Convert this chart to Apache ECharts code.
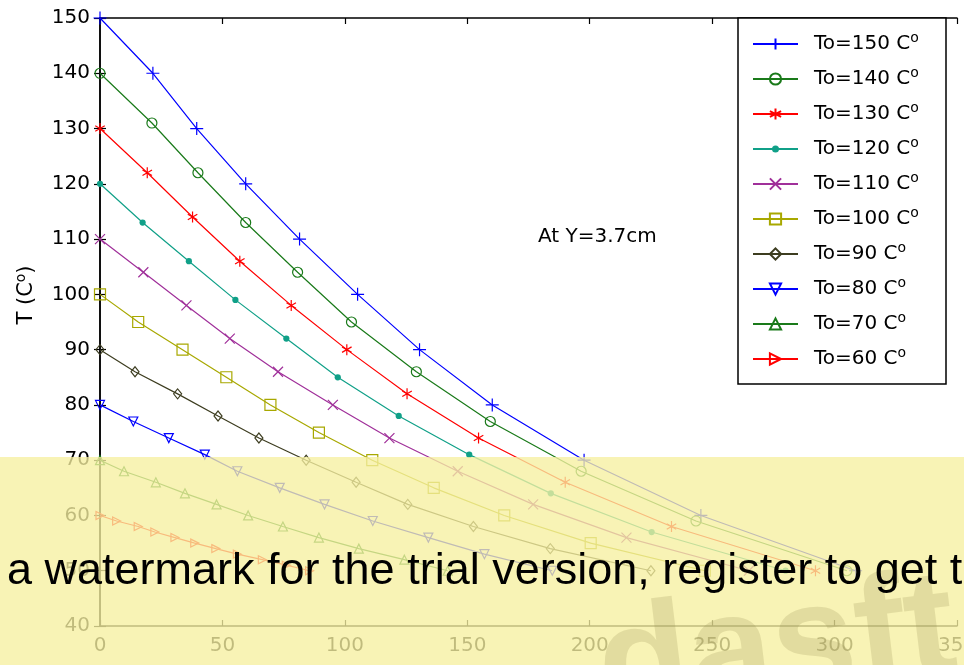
<!DOCTYPE html>
<html>
<head>
<meta charset="utf-8">
<script src="https://cdn.jsdelivr.net/npm/echarts@6/dist/echarts.min.js"></script>
<style>html,body{margin:0;padding:0;background:#fff}#c{width:964px;height:665px}</style>
</head>
<body>
<div id="c"></div>
<script>
// ---- data ----
const seriesNames = ['To=150', 'To=140', 'To=130', 'To=120', 'To=110', 'To=100', 'To=90', 'To=80', 'To=70', 'To=60'];
const x150 = [0, 21.6, 39.5, 59.5, 81.5, 105.2, 130.5, 160.2, 197.7, 245.4, 308.6];
const t150 = [150, 140, 130, 120, 110, 100, 90, 80, 70, 60, 50];
const x140 = [0, 21.2, 40, 59.5, 80.7, 102.7, 129.2, 159.4, 196.5, 243.4, 305];
const t140 = [140, 131, 122, 113, 104, 95, 86, 77, 68, 59, 50];
const x130 = [0, 19.3, 37.8, 57.1, 78.1, 100.8, 125.4, 154.6, 190, 233.4, 292.2];
const t130 = [130, 122, 114, 106, 98, 90, 82, 74, 66, 58, 50];
const x120 = [0, 17.4, 36.3, 55.3, 76.1, 97.1, 122, 150.8, 184.1, 225.3, 280];
const t120 = [120, 113, 106, 99, 92, 85, 78, 71, 64, 57, 50];
const x110 = [0, 17.7, 35.3, 53, 72.7, 95.1, 118.2, 146.1, 176.9, 215, 265];
const t110 = [110, 104, 98, 92, 86, 80, 74, 68, 62, 56, 50];
const x100 = [0, 15.6, 33.7, 51.6, 69.6, 89.4, 111.2, 136.3, 165.1, 200.4, 247];
const t100 = [100, 95, 90, 85, 80, 75, 70, 65, 60, 55, 50];
const x90 = [0, 14.3, 31.7, 48.2, 64.9, 84.2, 104.6, 125.7, 152.5, 183.9, 225];
const t90 = [90, 86, 82, 78, 74, 70, 66, 62, 58, 54, 50];
const x80 = [0, 13.6, 28.1, 42.8, 56.1, 73.4, 91.7, 111.4, 134.1, 157, 184.7];
const t80 = [80, 77, 74, 71, 68, 65, 62, 59, 56, 53, 50];
const x70 = [0, 9.8, 22.8, 34.7, 47.6, 60.5, 74.7, 89.4, 105.7, 124.3, 142];
const t70 = [70, 68, 66, 64, 62, 60, 58, 56, 54, 52, 50];
const x60 = [0, 6.8, 15.6, 22.4, 30.6, 38.7, 47.3, 56.1, 66.3, 76.1, 85.6];
const t60 = [60, 59, 58, 57, 56, 55, 54, 53, 52, 51, 50];
const xTicks = [0, 50, 100, 150, 200, 250, 300, 350];
const yTicks = [40, 50, 60, 70, 80, 90, 100, 110, 120, 130, 140, 150];

const xs = [x150, x140, x130, x120, x110, x100, x90, x80, x70, x60];
const ts = [t150, t140, t130, t120, t110, t100, t90, t80, t70, t60];

// ---- styles ----
const colors = ['#0000ff', '#1a7a1a', '#ff0000', '#10a088', '#a0309a', '#a8a800', '#3d3d20', '#0000ff', '#1a7a1a', '#ff0000'];
const symbols = [
  'path://M0,-1L0,1M-1,0L1,0',
  'circle',
  'path://M0,-1L0,1M-0.866,-0.5L0.866,0.5M-0.866,0.5L0.866,-0.5',
  'path://M-1.6,-1.6M1.6,1.6M1,0A1,1,0,1,1,-1,0A1,1,0,1,1,1,0Z',
  'path://M-1,-1L1,1M-1,1L1,-1',
  'rect',
  'diamond',
  'path://M-1,-1L1,-1L0,1Z',
  'triangle',
  'path://M-1,-1L1,0L-1,1Z'
];
const sizes = [13, 10, 11, 10, 10, 11, [8, 10], 9, 9, 8];
const filled = [false, false, false, true, false, false, false, false, false, false];

const series = seriesNames.map((n, i) => ({
  name: n,
  type: 'line',
  data: xs[i].map((x, k) => [x, ts[i][k]]),
  color: colors[i],
  symbol: symbols[i],
  symbolSize: sizes[i],
  symbolKeepAspect: true,
  showAllSymbol: true,
  lineStyle: { color: colors[i], width: 1.2 },
  itemStyle: { color: filled[i] ? colors[i] : 'rgba(255,255,255,0)', borderColor: filled[i] ? 'rgba(0,0,0,0)' : colors[i], borderWidth: filled[i] ? 0 : 1.2 },
  emphasis: { disabled: true },
  z: 2
}));

const F = 'DejaVu Sans';
const axisCommon = {
  type: 'value',
  axisLine: { show: true, lineStyle: { color: '#000', width: 1.5 } },
  axisTick: { show: true, inside: true, length: 6, lineStyle: { color: '#000', width: 1.2 } },
  splitLine: { show: false }
};

const option = {
  animation: false,
  backgroundColor: '#fff',
  grid: { left: 100, right: 7, top: 18, bottom: 39, containLabel: false, outerBoundsMode: 'none' },
  xAxis: [
    Object.assign({}, axisCommon, {
      position: 'bottom', min: xTicks[0], max: xTicks[xTicks.length - 1], interval: 50,
      axisLabel: { color: '#000', fontSize: 20, fontFamily: F, margin: 10 },
      name: 'X (cm)', nameLocation: 'middle', nameGap: 42,
      nameTextStyle: { color: '#000', fontSize: 20, fontFamily: F }
    }),
    Object.assign({}, axisCommon, {
      position: 'top', min: xTicks[0], max: xTicks[xTicks.length - 1], interval: 50,
      axisLabel: { show: false }
    })
  ],
  yAxis: [
    Object.assign({}, axisCommon, {
      position: 'left', min: yTicks[0], max: yTicks[yTicks.length - 1], interval: 10,
      axisLabel: { color: '#000', fontSize: 20, fontFamily: F, margin: 10 }
    }),
    Object.assign({}, axisCommon, {
      position: 'right', min: yTicks[0], max: yTicks[yTicks.length - 1], interval: 10,
      axisLabel: { show: false }
    })
  ],
  legend: {
    orient: 'vertical', left: 752, top: 31,
    itemWidth: 45, itemHeight: 14, itemGap: 12,
    padding: 0,
    selectedMode: false,
    formatter: n => n + ' C{s|o}',
    textStyle: { color: '#000', fontSize: 20, fontFamily: F, padding: [0, 0, 0, 11],
      rich: { s: { fontSize: 14, fontFamily: F, color: '#000', padding: [0, 0, 12, 0] } } },
    z: 10
  },
  graphic: [
    { type: 'rect', z: 5, shape: { x: 738, y: 18, width: 208, height: 366 }, style: { fill: '#fff', stroke: '#000', lineWidth: 1.5 } },
    { type: 'text', z: 5, left: 538, top: 227, style: { text: 'At Y=3.7cm', fontSize: 20, fontFamily: F, fill: '#000' } },
    { type: 'text', z: 5, x: 27, y: 295, rotation: Math.PI / 2, style: { text: 'T (C{s|o})', fontSize: 21, fontFamily: F, fill: '#000', align: 'center', verticalAlign: 'middle',
      rich: { s: { fontSize: 14, fontFamily: F, fill: '#000', padding: [0, 0, 12, 0] } } } },
    { type: 'rect', z: 100, shape: { x: 0, y: 457, width: 964, height: 208 }, style: { fill: 'rgba(246,240,160,0.78)' } },
    { type: 'text', z: 101, x: 590, y: 598, rotation: 0.12, style: { text: 'dasft', fontSize: 150, fontWeight: 'bold', fontFamily: 'Liberation Sans', fill: 'rgba(150,140,80,0.22)', textVerticalAlign: 'top' } },
    { type: 'text', z: 102, x: 7, y: 572, style: { text: 'a watermark for the trial version, register to get the full one', fontSize: 45, fontFamily: 'Liberation Sans', fill: '#000', textVerticalAlign: 'middle' } }
  ],
  series: series
};

const chart = echarts.init(document.getElementById('c'), null, { renderer: 'canvas' });
chart.setOption(option);
</script>
</body>
</html>
